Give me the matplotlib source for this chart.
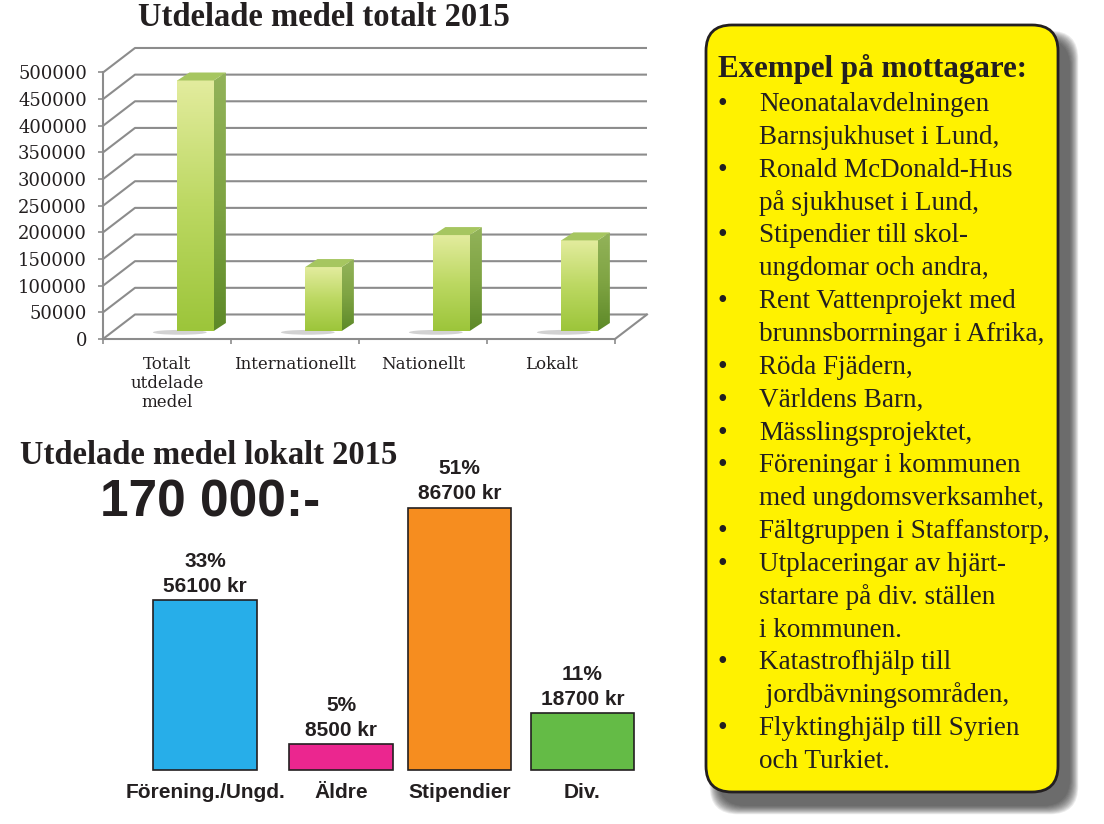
import matplotlib
matplotlib.use("Agg")
import matplotlib.pyplot as plt
import numpy as np
from matplotlib.patches import Polygon, FancyBboxPatch, Ellipse
from matplotlib.colors import LinearSegmentedColormap

# --- data -------------------------------------------------------------
total_cats = ["Totalt\nutdelade\nmedel", "Internationellt", "Nationellt", "Lokalt"]
total_vals = [470000, 120000, 180000, 170000]

local_cats = ["Förening./Ungd.", "Äldre", "Stipendier", "Div."]
local_vals = [56100, 8500, 86700, 18700]
local_total = 170000
local_colors = ["#27aee9", "#eb268f", "#f68d1f", "#64bb46"]

recipients = [
    ["Neonatalavdelningen", "Barnsjukhuset i Lund,"],
    ["Ronald McDonald-Hus", "på sjukhuset i Lund,"],
    ["Stipendier till skol-", "ungdomar och andra,"],
    ["Rent Vattenprojekt med", "brunnsborrningar i Afrika,"],
    ["Röda Fjädern,"],
    ["Världens Barn,"],
    ["Mässlingsprojektet,"],
    ["Föreningar i kommunen", "med ungdomsverksamhet,"],
    ["Fältgruppen i Staffanstorp,"],
    ["Utplaceringar av hjärt-", "startare på div. ställen", "i kommunen."],
    ["Katastrofhjälp till", " jordbävningsområden,"],
    ["Flyktinghjälp till Syrien", "och Turkiet."],
]

W, H = 1104, 824
DARK = "#231f20"
SERIF = "Liberation Serif"
SANS = "Liberation Sans"

fig = plt.figure(figsize=(W / 100, H / 100), dpi=100)


def rect(l, t, r, b):
    # pixel box -> figure fraction
    return [l / W, 1 - b / H, (r - l) / W, (b - t) / H]


# background axes in pixel units, for titles and the text box
bg = fig.add_axes([0, 0, 1, 1])
bg.set_xlim(0, W)
bg.set_ylim(H, 0)
bg.axis("off")

# --- top chart: pseudo 3D column chart --------------------------------
X0, PXU = 103, 128.0        # px of x=0, px per category
Y0, PXV = 339, 0.000533     # px of y=0, px per unit
xlim = (-0.1, 4.4)
ylim = (-20000, 560000)
ax1 = fig.add_axes(rect(X0 + xlim[0] * PXU, Y0 - ylim[1] * PXV,
                        X0 + xlim[1] * PXU, Y0 - ylim[0] * PXV))
ax1.patch.set_visible(False)

grid_c = "#8c8c8c"
dx, dy = 0.25, 46000        # depth of the back wall
for v in range(0, 500001, 50000):
    ax1.plot([0, dx, 4 + dx], [v, v + dy, v + dy], color=grid_c, lw=1.5,
             zorder=1, solid_capstyle="butt")
ax1.plot([4, 4 + dx], [0, dy], color=grid_c, lw=1.5, zorder=1)

for s in ["top", "right"]:
    ax1.spines[s].set_visible(False)
ax1.spines["left"].set_position(("data", 0))
ax1.spines["left"].set_bounds(0, 500000)
ax1.spines["bottom"].set_position(("data", 0))
ax1.spines["bottom"].set_bounds(0, 4)
for s in ["left", "bottom"]:
    ax1.spines[s].set_color(grid_c)
    ax1.spines[s].set_linewidth(1.5)

ax1.set_yticks(np.arange(0, 500001, 50000))
ax1.set_yticklabels([str(v) for v in range(0, 500001, 50000)])
ax1.tick_params(axis="y", direction="out", length=3.6, width=1.2, color=grid_c,
                pad=8, labelsize=13, labelcolor=DARK)
for lab in ax1.get_yticklabels():
    lab.set_family("DejaVu Serif")
ax1.set_xticks(range(5))
ax1.set_xticklabels([])
ax1.set_xticks(np.arange(4) + 0.5, minor=True)
ax1.set_xticklabels(total_cats, minor=True, fontsize=12, family="DejaVu Serif",
                    color=DARK, linespacing=1.15)
ax1.tick_params(axis="x", which="major", direction="out", length=3.6, width=1.2,
                color=grid_c)
ax1.tick_params(axis="x", which="minor", length=0, pad=12)

front_cm = LinearSegmentedColormap.from_list("front", ["#9cc53a", "#bcd862", "#e3ec9e"])
side_cm = LinearSegmentedColormap.from_list("side", ["#5d8928", "#7fa443", "#93b35a"])
grad = np.linspace(0, 1, 256).reshape(-1, 1)

bw, b0 = 0.285, 15000
sdx, sdy = 0.095, 15000
for i, v in enumerate(total_vals):
    xl = i + 0.58
    xr = xl + bw
    top = b0 + v
    ax1.add_patch(Ellipse((xl + 0.02, b0 - 2500), 0.42, 9000, color="#6a6a6a",
                          alpha=0.3, lw=0, zorder=2))
    front = Polygon([(xl, b0), (xr, b0), (xr, top), (xl, top)], closed=True,
                    fc="none", ec="none")
    ax1.add_patch(front)
    im = ax1.imshow(grad, extent=(xl, xr, b0, top), cmap=front_cm, aspect="auto",
                    origin="lower", zorder=3)
    im.set_clip_path(front)
    side = Polygon([(xr, b0), (xr + sdx, b0 + sdy), (xr + sdx, top + sdy), (xr, top)],
                   closed=True, fc="none", ec="none")
    ax1.add_patch(side)
    im2 = ax1.imshow(grad, extent=(xr, xr + sdx, b0, top + sdy), cmap=side_cm,
                     aspect="auto", origin="lower", zorder=3)
    im2.set_clip_path(side)
    ax1.add_patch(Polygon([(xl, top), (xr, top), (xr + sdx, top + sdy),
                           (xl + sdx, top + sdy)], closed=True, fc="#a6c660",
                          ec="none", zorder=3))

ax1.set_xlim(*xlim)
ax1.set_ylim(*ylim)

bg.text(324, 17, "Utdelade medel totalt 2015", ha="center", va="center",
        fontsize=23.5, fontweight="bold", family=SERIF, color=DARK)

# --- bottom chart: local distribution ---------------------------------
PXL = 0.00302
base = 769.5
ax2 = fig.add_axes(rect(100, 430, 680, H))
ax2.set_xlim(100, 680)
ax2.set_ylim((base - H) / PXL, (base - 430) / PXL)
ax2.axis("off")

centers = [205.2, 341.0, 459.5, 582.4]
ax2.bar(centers, local_vals, width=103.5, color=local_colors, edgecolor=DARK,
        linewidth=1.2)
for c, v, name in zip(centers, local_vals, local_cats):
    pct = round(v / local_total * 100)
    ax2.annotate(f"{pct}%\n{v} kr", (c, v), xytext=(0, 3), textcoords="offset points",
                 ha="center", va="bottom", fontsize=15, fontweight="bold",
                 family=SANS, color=DARK, linespacing=1.4)
    ax2.annotate(name, (c, 0), xytext=(0, -10), textcoords="offset points",
                 ha="center", va="top", fontsize=15, fontweight="bold",
                 family=SANS, color=DARK)

bg.text(20, 455, "Utdelade medel lokalt 2015", ha="left", va="center",
        fontsize=23.5, fontweight="bold", family=SERIF, color=DARK)
bg.text(100, 503, "170 000:-", ha="left", va="center", fontsize=37,
        fontweight="bold", family=SANS, color=DARK)

# --- yellow box with recipients ---------------------------------------
bx, by, bwid, bht = 706, 25, 352, 767
for k in range(12):
    grow = k * 1.5
    bg.add_patch(FancyBboxPatch((bx + 12 - grow / 2, by + 14 - grow / 2),
                                bwid + grow, bht + grow,
                                boxstyle="round,pad=0,rounding_size=28",
                                fc="#2b2b2b", ec="none", alpha=0.09, zorder=1))
bg.add_patch(FancyBboxPatch((bx, by), bwid, bht, boxstyle="round,pad=0,rounding_size=26",
                            fc="#fff200", ec=DARK, lw=2, zorder=2))

bg.text(718, 77, "Exempel på mottagare:", ha="left", va="baseline", fontsize=22.3,
        fontweight="bold", family=SERIF, color=DARK, zorder=3)
row = 0
for item in recipients:
    for j, line in enumerate(item):
        y = 111 + row * 32.85
        if j == 0:
            bg.text(722, y, "•", ha="center", va="baseline", fontsize=20,
                    family=SERIF, color=DARK, zorder=3)
        bg.text(759, y, line, ha="left", va="baseline", fontsize=19.5,
                family=SERIF, color=DARK, zorder=3)
        row += 1

fig.savefig("out.png", dpi=100)
